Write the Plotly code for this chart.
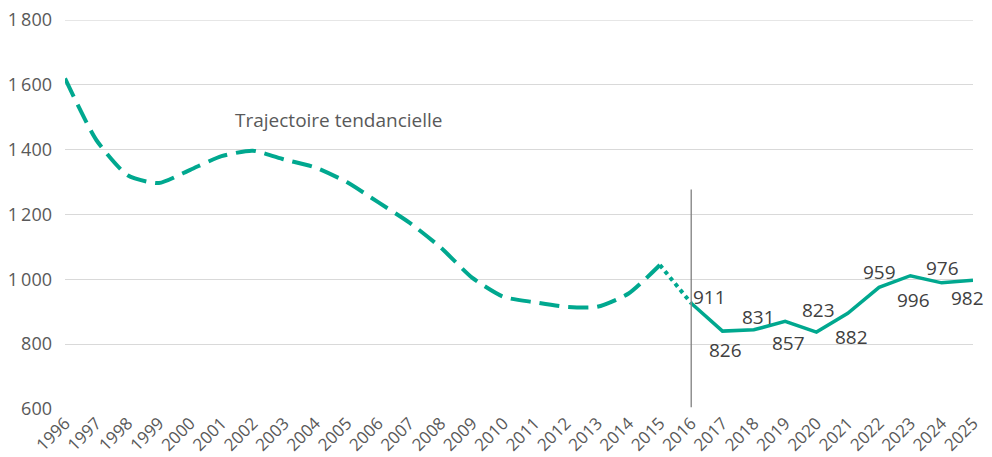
import plotly.graph_objects as go

# ---- data ----
years_trend = list(range(1996, 2016))
values_trend = [1620, 1430, 1321, 1297, 1338, 1380, 1397, 1370, 1345, 1300,
                1238, 1175, 1098, 1005, 946, 929, 915, 915, 956, 1044]

years_obs = list(range(2016, 2026))
values_obs = [926, 840, 844, 870, 837, 895, 975, 1011, 989, 997]
labels_obs = ["911", "826", "831", "857", "823", "882", "959", "996", "976", "982"]

tick_years = list(range(1996, 2026))
y_ticks = [600, 800, 1000, 1200, 1400, 1600, 1800]
y_ticktext = ["600", "800", "1\u2009000", "1\u2009200", "1\u2009400", "1\u2009600", "1\u2009800"]

trend_label = "Trajectoire tendancielle"

# ---- style ----
TEAL = "#00A88F"
FONT = "Open Sans"
TXT = "#595959"
LBL = "#404040"
GRID = "#D9D9D9"
label_shifts = [(18, 6), (3, -19), (5, 13), (3, -22), (2, 22),
                (4, -24), (0, 15), (3, -24), (1, 15), (-6, -18)]

fig = go.Figure()

# smoothed dashed trend 1996-2015
fig.add_trace(go.Scatter(
    x=years_trend, y=values_trend, mode="lines",
    line=dict(color=TEAL, width=4, dash="20px,9px", shape="spline", smoothing=0.6),
    hoverinfo="skip", showlegend=False))

# dotted link 2015-2016
fig.add_trace(go.Scatter(
    x=[years_trend[-1], years_obs[0]], y=[values_trend[-1], values_obs[0]], mode="lines",
    line=dict(color=TEAL, width=4, dash="4px,4px"),
    hoverinfo="skip", showlegend=False))

# solid observed 2016-2025
fig.add_trace(go.Scatter(
    x=years_obs, y=values_obs, mode="lines",
    line=dict(color=TEAL, width=3.5),
    hoverinfo="skip", showlegend=False))

# data labels
for x, y, t, (dx, dy) in zip(years_obs, values_obs, labels_obs, label_shifts):
    fig.add_annotation(x=x, y=y, text=t, showarrow=False,
                       xshift=dx, yshift=dy,
                       font=dict(family=FONT, size=19, color=LBL))

# trend annotation
fig.add_annotation(x=2001.37, y=1491, text=trend_label, showarrow=False,
                   xanchor="left", yanchor="middle",
                   font=dict(family=FONT, size=19, color=TXT))

# top gridline (plotly drops gridlines lying on the plot edge)
fig.add_shape(type="line", xref="paper", x0=0, x1=1, yref="y", y0=y_ticks[-1], y1=y_ticks[-1],
              line=dict(color=GRID, width=1), layer="below")

# vertical separator at 2016
fig.add_shape(type="line", x0=2016, x1=2016, y0=605, y1=1277,
              xref="x", yref="y", line=dict(color="#7F7F7F", width=1.3))

fig.update_layout(
    width=992, height=449, autosize=False,
    margin=dict(l=57, r=27, t=12, b=48),
    paper_bgcolor="white", plot_bgcolor="white",
    font=dict(family=FONT, size=18, color=TXT),
    xaxis=dict(range=[1996, 2025], tickmode="array", tickvals=tick_years,
               ticktext=[str(y) for y in tick_years], tickangle=-45,
               showgrid=False, zeroline=False, showline=False, ticks="",
               automargin=False, ticklabeloverflow="allow",
               tickfont=dict(family=FONT, size=17, color=TXT)),
    yaxis=dict(range=[599.5, 1800.5], tickmode="array", tickvals=y_ticks,
               ticktext=y_ticktext, showgrid=True, gridcolor=GRID, gridwidth=1,
               zeroline=False, showline=False, ticks="", ticklabelstandoff=12,
               automargin=False, ticklabeloverflow="allow",
               tickfont=dict(family=FONT, size=18, color=TXT)),
)

fig.write_html("out.html")
